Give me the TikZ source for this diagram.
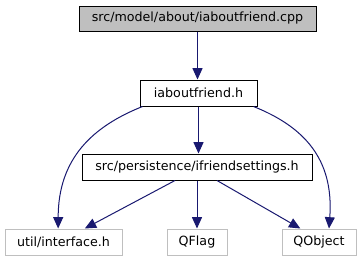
\documentclass[tikz,border=0pt]{standalone}
\usepackage{fontspec}
\setmainfont{DejaVu Sans}
\usetikzlibrary{arrows.meta}
\definecolor{edgeblue}{RGB}{25,25,112}
\definecolor{boxgray}{RGB}{191,191,191}

\begin{document}
\begin{tikzpicture}[
        x=0.75pt, y=-0.75pt,
        file/.style={draw=black, fill=white, line width=0.75pt, inner sep=0pt,
                     minimum height=19.5pt, font=\fontsize{9.5}{11}\selectfont},
        extfile/.style={file, draw=boxgray},
        edge/.style={-{Triangle[length=8.5pt,width=7.5pt]}, line width=0.75pt, draw=edgeblue}
    ]
        \useasboundingbox (0,0) rectangle (363,261);

        \node[file, fill=boxgray, minimum width=177.75pt, minimum height=18.75pt] (cpp) at (197.5,18.5) {src/model/about/iaboutfriend.cpp};
        \node[file, minimum width=87.75pt] (ifh) at (198.5,93) {iaboutfriend.h};
        \node[file, minimum width=172.5pt] (settings) at (197,167) {src/persistence/ifriendsettings.h};
        \node[extfile, minimum width=87.75pt] (util) at (63.5,242) {util/interface.h};
        \node[extfile, minimum width=45pt] (qflag) at (197,242) {QFlag};
        \node[extfile, minimum width=55.5pt] (qobject) at (319,242) {QObject};

        \draw[edge] (cpp) -- (cpp |- ifh.north);
        \draw[edge] (ifh) -- (ifh |- settings.north);
        \draw[edge] ([xshift=2.25pt]ifh.south west) .. controls +(-50,20) and +(0,-70) .. ([xshift=-4pt]util.north);
        \draw[edge] ([xshift=-3pt]ifh.south east) .. controls +(50,20) and +(5,-70) .. ([xshift=7.5pt]qobject.north);
        \draw[edge] ([xshift=-16.5pt]settings.south) -- ([xshift=16pt]util.north);
        \draw[edge] (settings) -- (qflag);
        \draw[edge] ([xshift=15pt]settings.south) -- ([xshift=-14pt]qobject.north);
    \end{tikzpicture}
\end{document}
